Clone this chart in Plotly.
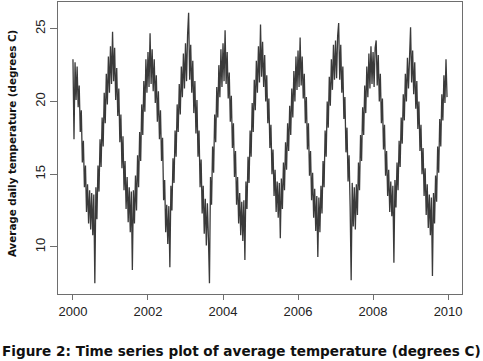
import plotly.graph_objects as go

t2000 = [22.9, 17.4, 22.7, 20.1, 22.4, 19.6, 21.1, 17.9, 19.4, 15.8, 17.3, 14.1, 15.6, 12.4, 14.3, 11.6, 13.9, 11.2,
         13.7, 10.8, 13.6, 7.5, 14.1, 11.9, 15.6, 13.8, 17.4, 15.5, 18.9, 16.9, 20.6, 18.5, 21.9, 19.8, 23.1, 20.6]
t2001 = [23.8, 21.2, 24.8, 21.4, 23.7, 20.1, 22.3, 19.0, 20.9, 17.2, 19.1, 15.4, 17.6, 13.9, 15.9, 12.6, 14.8, 11.7,
         14.1, 11.0, 13.8, 8.4, 13.9, 11.6, 14.9, 12.5, 16.3, 14.1, 17.9, 15.9, 19.8, 17.7, 21.4, 19.3, 22.9, 20.6]
t2002 = [23.4, 21.0, 24.7, 21.2, 23.6, 20.7, 22.9, 19.9, 21.8, 18.6, 20.7, 17.4, 19.4, 15.9, 17.5, 13.2, 14.6, 11.0,
         12.9, 10.2, 12.8, 8.6, 14.2, 12.5, 16.1, 14.4, 18.0, 16.2, 19.8, 17.9, 21.2, 19.1, 22.4, 20.3, 23.3, 20.9]
t2003 = [24.0, 21.4, 24.6, 26.1, 21.5, 23.9, 20.6, 22.8, 19.2, 21.4, 17.8, 20.1, 16.2, 18.0, 14.1, 16.0, 12.3, 14.2,
         10.9, 13.3, 10.1, 13.0, 10.6, 7.5, 14.8, 12.9, 16.9, 15.1, 19.1, 17.2, 21.0, 18.9, 22.5, 20.3, 23.6, 21.0]
t2004 = [24.0, 21.4, 24.9, 21.2, 23.4, 20.2, 22.0, 18.6, 20.4, 16.8, 18.5, 14.8, 16.6, 12.9, 14.8, 11.6, 13.7, 10.8,
         13.1, 10.4, 13.2, 9.1, 14.5, 12.6, 16.2, 14.4, 18.0, 16.2, 19.9, 17.9, 21.5, 19.4, 22.8, 20.6, 23.8, 21.3]
t2005 = [25.3, 21.7, 24.1, 21.0, 23.2, 20.0, 21.8, 18.5, 20.2, 16.8, 18.4, 15.0, 16.7, 13.5, 15.3, 12.4, 14.5, 12.0,
         14.4, 10.6, 14.7, 12.6, 15.8, 13.9, 17.2, 15.3, 18.5, 16.6, 19.7, 17.7, 20.9, 18.9, 22.1, 20.0, 23.1, 20.8]
t2006 = [23.5, 21.0, 24.4, 21.1, 23.1, 20.2, 21.9, 18.5, 20.3, 16.7, 18.5, 14.9, 16.6, 13.2, 15.1, 12.0, 14.0, 11.1,
         13.5, 9.3, 13.4, 11.0, 14.2, 12.3, 15.9, 14.1, 18.0, 16.2, 20.0, 18.2, 21.7, 19.7, 22.9, 20.8, 23.9, 21.5]
t2007 = [24.2, 21.6, 24.5, 25.4, 21.5, 23.9, 20.6, 22.4, 18.8, 20.3, 16.5, 18.2, 14.5, 16.3, 12.8, 7.7, 14.4, 11.4,
         14.1, 11.2, 14.3, 12.2, 15.8, 13.9, 17.7, 15.9, 19.6, 17.7, 21.1, 19.2, 22.4, 20.3, 23.3, 20.9, 23.8, 21.2]
t2008 = [23.4, 21.0, 23.7, 24.2, 21.1, 23.2, 20.0, 21.9, 18.5, 20.2, 16.7, 18.4, 14.9, 16.6, 13.5, 15.3, 12.4, 14.5,
         12.1, 14.2, 8.9, 14.6, 12.7, 15.8, 13.9, 17.3, 15.5, 18.9, 17.1, 20.5, 18.7, 21.9, 20.0, 23.0, 20.9, 23.6]
t2009 = [25.1, 21.3, 23.5, 20.5, 22.7, 19.5, 21.4, 18.1, 20.0, 16.6, 18.4, 15.0, 16.8, 13.5, 15.4, 12.2, 14.3, 11.3,
         13.6, 10.8, 13.4, 8.0, 13.7, 11.6, 14.9, 13.1, 16.9, 15.1, 18.8, 16.9, 20.5, 18.7, 21.8, 19.9, 22.9, 20.3]

years = [2000, 2001, 2002, 2003, 2004, 2005, 2006, 2007, 2008, 2009]
series = [t2000, t2001, t2002, t2003, t2004, t2005, t2006, t2007, t2008, t2009]

x_tick_vals = [2000, 2002, 2004, 2006, 2008, 2010]
y_tick_vals = [10, 15, 20, 25]

xs, ys = [], []
for yr, vals in zip(years, series):
    n = len(vals)
    for i, v in enumerate(vals):
        xs.append(yr + i / n)
        ys.append(v)

fig = go.Figure()
fig.add_trace(go.Scatter(x=xs, y=ys, mode="lines",
                         line=dict(color="#3a3a3a", width=1.3), hoverinfo="skip"))

xmin, xmax = min(xs), max(xs)
ymin, ymax = min(ys), max(ys)
xpad = (xmax - xmin) * 0.04
ypad = (ymax - ymin) * 0.04

axis_common = dict(showgrid=False, zeroline=False, showline=True, mirror=True,
                   linecolor="#6e6e6e", linewidth=1, ticks="outside",
                   tickcolor="#6e6e6e", tickwidth=1, automargin=False,
                   tickfont=dict(family="Liberation Sans, Arial", size=13, color="#222"))

fig.update_layout(
    width=483, height=361,
    margin=dict(l=58, r=21, t=2, b=67),
    paper_bgcolor="white", plot_bgcolor="white",
    showlegend=False,
    xaxis=dict(range=[xmin - xpad, xmax + xpad], tickvals=x_tick_vals, ticklen=5,
               ticktext=[str(v) for v in x_tick_vals], **axis_common),
    yaxis=dict(range=[ymin - ypad, ymax + ypad], tickvals=y_tick_vals, ticklen=7,
               ticktext=[str(v) for v in y_tick_vals], tickangle=-90, **axis_common),
    annotations=[
        dict(text="<b>Average daily temperature (degrees C)</b>", textangle=-90,
             xref="paper", yref="paper", x=0, y=0.5, xanchor="center", yanchor="middle",
             xshift=-46, yshift=4, showarrow=False,
             font=dict(family="DejaVu Sans", size=10.3, color="#111")),
        dict(text="<b>Figure 2: Time series plot of average temperature (degrees C)</b>",
             xref="paper", yref="paper", x=0.5, y=0, xanchor="center", yanchor="middle",
             xshift=-19, yshift=-57, showarrow=False,
             font=dict(family="DejaVu Sans", size=13.6, color="#111")),
    ],
)

fig.write_html("out.html", config={"displayModeBar": False},
               post_script="document.body.style.margin='0';")
